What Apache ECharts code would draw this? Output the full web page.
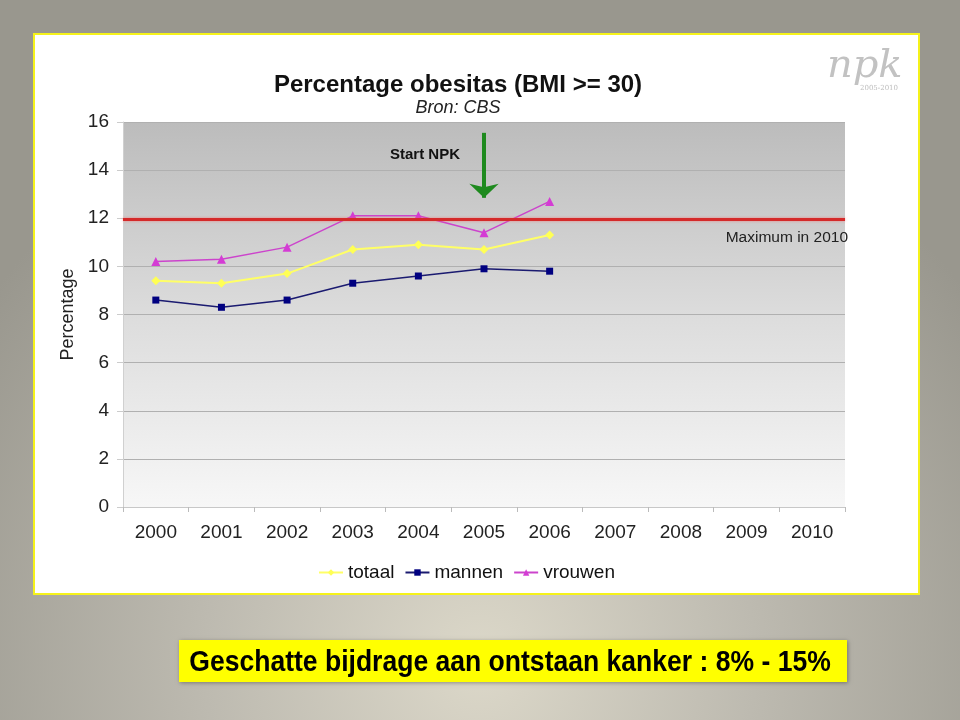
<!DOCTYPE html>
<html>
<head>
<meta charset="utf-8">
<script src="https://cdn.jsdelivr.net/npm/echarts@6/dist/echarts.min.js"></script>
<style>
html,body{margin:0;padding:0;}
#chart{width:960px;height:720px;}
</style>
</head>
<body>
<div id="chart"></div>
<script>
var years = ['2000','2001','2002','2003','2004','2005','2006','2007','2008','2009','2010'];
var totaal = [9.4, 9.3, 9.7, 10.7, 10.9, 10.7, 11.3];
var mannen = [8.6, 8.3, 8.6, 9.3, 9.6, 9.9, 9.8];
var vrouwen = [10.2, 10.3, 10.8, 12.1, 12.1, 11.4, 12.7];
var maximum2010 = 11.97;
var startYear = '2005';
var arrowTop = 15.55, arrowTip = 12.85;

var FONT = '"Liberation Sans", Arial, sans-serif';
var chart = echarts.init(document.getElementById('chart'));

chart.setOption({
  backgroundColor: {
    type: 'radial', x: 0.5, y: 0.92, r: 0.85,
    colorStops: [
      {offset: 0, color: '#dcd8c9'},
      {offset: 0.45, color: '#bdbab0'},
      {offset: 1, color: '#99978e'}
    ]
  },
  animation: false,
  textStyle: {fontFamily: FONT},
  title: {
    text: 'Percentage obesitas (BMI >= 30)',
    subtext: 'Bron: CBS',
    left: 453, top: 68, textAlign: 'center',
    itemGap: 2,
    textStyle: {fontSize: 24, fontWeight: 'bold', color: '#111', fontFamily: FONT},
    subtextStyle: {fontSize: 18, fontStyle: 'italic', color: '#222', fontFamily: FONT}
  },
  legend: {
    left: 313, top: 558,
    itemWidth: 24, itemHeight: 8, itemGap: 10,
    textStyle: {fontSize: 19, color: '#111', fontFamily: FONT},
    data: ['totaal', 'mannen', 'vrouwen']
  },
  grid: {
    left: 123, right: 115, top: 122, bottom: 213,
    show: true, borderWidth: 0,
    backgroundColor: {
      type: 'linear', x: 0, y: 0, x2: 0, y2: 1,
      colorStops: [
        {offset: 0, color: '#bcbcbc'},
        {offset: 0.5, color: '#dcdcdc'},
        {offset: 1, color: '#f7f7f7'}
      ]
    }
  },
  xAxis: {
    type: 'category', data: years, boundaryGap: true,
    axisLine: {lineStyle: {color: '#c8c8c8'}},
    axisTick: {show: true, length: 5, lineStyle: {color: '#bbb'}},
    axisLabel: {fontSize: 19, color: '#222', margin: 16, fontFamily: FONT}
  },
  yAxis: {
    type: 'value', min: 0, max: 16, interval: 2,
    name: 'Percentage', nameLocation: 'middle', nameGap: 46,
    nameTextStyle: {fontSize: 18, color: '#222', fontFamily: FONT},
    axisLine: {show: true, lineStyle: {color: '#d0d0d0'}},
    axisTick: {show: true, length: 6, lineStyle: {color: '#ccc'}},
    axisLabel: {fontSize: 19, color: '#222', margin: 14, fontFamily: FONT},
    splitLine: {lineStyle: {color: '#b0b0b0', width: 1}}
  },
  graphic: [
    {type: 'rect', z: -10, shape: {x: 34, y: 34, width: 885, height: 560},
     style: {fill: '#ffffff', stroke: '#f5f21a', lineWidth: 2}},
    {type: 'text', z: 5, x: 827, y: 47,
     style: {text: 'npk', font: 'italic 40px "DejaVu Serif", serif', fill: '#c2c2c2'}},
    {type: 'text', z: 5, x: 860, y: 85,
     style: {text: '2005-2010', font: '7px "DejaVu Serif", serif', fill: '#bdbdbd'}},
    {type: 'text', z: 5, x: 390, y: 147,
     style: {text: 'Start NPK', font: 'bold 15px "Liberation Sans", Arial, sans-serif', fill: '#111'}},
    {type: 'rect', z: 5, shape: {x: 179, y: 640, width: 668, height: 42},
     style: {fill: '#ffff00', shadowBlur: 4, shadowColor: 'rgba(0,0,0,0.35)', shadowOffsetX: 1, shadowOffsetY: 1}},
    {type: 'text', z: 6, x: 510, y: 663, scaleX: 0.915,
     style: {text: 'Geschatte bijdrage aan ontstaan kanker : 8% - 15%',
             font: 'bold 29px "Liberation Sans", Arial, sans-serif', fill: '#000',
             align: 'center', verticalAlign: 'middle'}}
  ],
  series: [
    {
      name: 'totaal', type: 'line', data: totaal,
      symbol: 'diamond', symbolSize: 9,
      itemStyle: {color: '#ffff55'},
      lineStyle: {color: '#ffff66', width: 2},
      z: 3
    },
    {
      name: 'mannen', type: 'line', data: mannen,
      symbol: 'rect', symbolSize: 7,
      itemStyle: {color: '#000080'},
      lineStyle: {color: '#1a1a70', width: 1.5},
      z: 3
    },
    {
      name: 'vrouwen', type: 'line', data: vrouwen,
      symbol: 'triangle', symbolSize: 9,
      itemStyle: {color: '#d43cd4'},
      lineStyle: {color: '#cc44cc', width: 1.5},
      z: 4,
      markLine: {
        silent: true,
        symbol: ['none', 'none'],
        data: [
          {yAxis: maximum2010,
           lineStyle: {color: '#d42a2a', width: 3, type: 'solid',
                       shadowColor: 'rgba(255,90,90,0.6)', shadowBlur: 3},
           label: {show: true, position: 'insideEndBottom', formatter: 'Maximum in 2010',
                   fontSize: 15.5, color: '#222', fontFamily: FONT, distance: [-3, 11]}},
          [
            {coord: [startYear, arrowTop], symbol: 'none',
             lineStyle: {color: '#1e8a1e', width: 4, type: 'solid'}},
            {coord: [startYear, arrowTip], symbol: 'arrow', symbolSize: [22, 14]}
          ]
        ],
        label: {show: false}
      }
    }
  ]
});
</script>
</body>
</html>
